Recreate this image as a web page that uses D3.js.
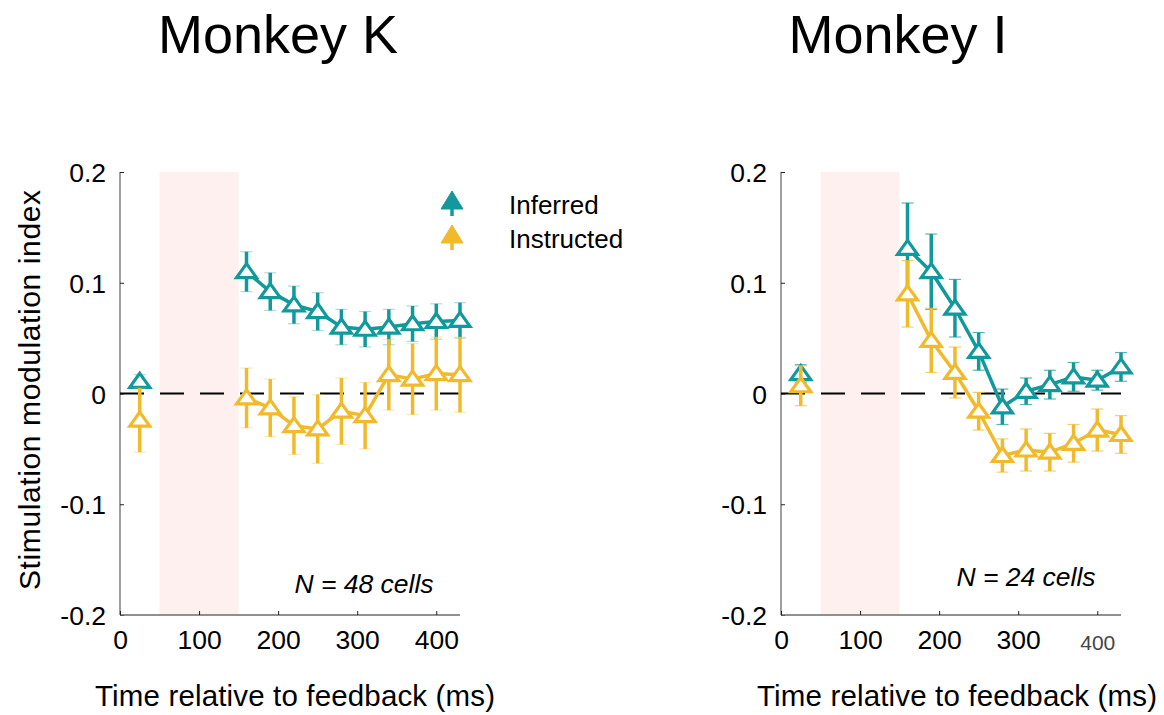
<!DOCTYPE html>
<html>
<head>
<meta charset="utf-8">
<script src="https://cdn.jsdelivr.net/npm/d3@7"></script>
<style>
  html, body { margin: 0; padding: 0; background: #fff; }
  svg { display: block; font-family: "Liberation Sans", Helvetica, Arial, sans-serif; }
</style>
</head>
<body>
<svg id="chart" width="1164" height="715"></svg>
<script>
// Time bins (ms relative to feedback)
const times = [25, 160, 190, 220, 250, 280, 310, 340, 370, 400, 430];

// Monkey K
const inferredK      = [0.011, 0.110, 0.092, 0.080, 0.074, 0.060, 0.058, 0.060, 0.063, 0.065, 0.066];
const inferredKErr   = [0.006, 0.018, 0.017, 0.017, 0.017, 0.016, 0.016, 0.016, 0.016, 0.016, 0.016];
const instructedK    = [-0.024, -0.004, -0.013, -0.029, -0.032, -0.016, -0.020, 0.017, 0.013, 0.018, 0.017];
const instructedKErr = [0.029, 0.027, 0.026, 0.026, 0.031, 0.030, 0.030, 0.032, 0.032, 0.033, 0.034];

// Monkey I
const inferredI      = [0.018, 0.131, 0.110, 0.077, 0.038, -0.012, 0.002, 0.008, 0.015, 0.012, 0.024];
const inferredIErr   = [0.008, 0.041, 0.034, 0.026, 0.017, 0.016, 0.012, 0.013, 0.013, 0.009, 0.013];
const instructedI    = [0.007, 0.090, 0.048, 0.019, -0.016, -0.056, -0.051, -0.053, -0.045, -0.033, -0.037];
const instructedIErr = [0.018, 0.030, 0.029, 0.023, 0.017, 0.015, 0.019, 0.017, 0.017, 0.019, 0.017];

const xTicks = [0, 100, 200, 300, 400];
const yTicks = [-0.2, -0.1, 0, 0.1, 0.2];
const yTickLabels = ["-0.2", "-0.1", "0", "0.1", "0.2"];
const stimWindow = [50, 150];
const seriesNames = ["Inferred", "Instructed"];

const TEAL = "#12999b";
const GOLD = "#f1ba2a";
const PINK = "#fff0f0";

const svg = d3.select("#chart");

// open triangle marker path, centred on the data point
const triPath = "M0,-8L10,6L-10,6Z";

function drawPanel(opts) {
  const x = d3.scaleLinear().domain([0, 430]).range([opts.left, opts.left + 340]);
  const y = d3.scaleLinear().domain([-0.2, 0.2]).range([615, 172]);
  const g = svg.append("g");

  // stimulation window
  g.append("rect")
    .attr("x", x(stimWindow[0])).attr("width", x(stimWindow[1]) - x(stimWindow[0]))
    .attr("y", y(0.2)).attr("height", y(-0.2) - y(0.2))
    .attr("fill", PINK);

  // axes
  const yAxis = d3.axisLeft(y).tickValues(yTicks).tickSize(-4).tickPadding(14)
    .tickFormat((d, i) => yTickLabels[i]);
  const xAxis = d3.axisBottom(x).tickValues(xTicks).tickSize(-4).tickPadding(16)
    .tickFormat(d3.format("d"));

  const ya = g.append("g").attr("transform", `translate(${x(0)},0)`).call(yAxis);
  const xa = g.append("g").attr("transform", `translate(0,${y(-0.2)})`).call(xAxis);
  [ya, xa].forEach(a => {
    a.select(".domain").attr("stroke", "#6b6b6b").attr("stroke-width", 1.3);
    a.selectAll(".tick line").attr("stroke", "#222").attr("stroke-width", 1);
    a.selectAll(".tick text").attr("font-size", 26.5).attr("fill", "#000")
      .attr("font-family", "'Liberation Sans', Helvetica, Arial, sans-serif");
  });
  ya.select(".domain").attr("d", `M0,${y(0.2)}V${y(-0.2)}`);
  xa.select(".domain").attr("d", `M${x(0)},0H${x(430)}`);
  ya.selectAll(".tick text").attr("dy", "0.36em");
  xa.selectAll(".tick text").attr("dy", "0.68em");
  if (opts.smallLast) {
    xa.selectAll(".tick text").filter(d => d === 400)
      .attr("font-size", 21).attr("fill", "#444").attr("dy", "0.9em");
  }

  // zero reference
  g.append("line")
    .attr("x1", x(0)).attr("x2", x(430)).attr("y1", y(0)).attr("y2", y(0))
    .attr("stroke", "#000").attr("stroke-width", 2.2)
    .attr("stroke-dasharray", "24,16");

  // series: inferred first, instructed on top
  const series = [
    { vals: opts.inferred, errs: opts.inferredErr, color: TEAL },
    { vals: opts.instructed, errs: opts.instructedErr, color: GOLD }
  ];
  series.forEach(s => {
    const pts = times.map((t, i) => ({ t, v: s.vals[i], e: s.errs[i] }));
    const sg = g.append("g");
    // error bars
    pts.forEach(p => {
      sg.append("line")
        .attr("x1", x(p.t)).attr("x2", x(p.t))
        .attr("y1", y(p.v - p.e)).attr("y2", y(p.v + p.e))
        .attr("stroke", s.color).attr("stroke-width", 3.5);
      [p.v - p.e, p.v + p.e].forEach(c => {
        sg.append("line")
          .attr("x1", x(p.t) - 6).attr("x2", x(p.t) + 6)
          .attr("y1", y(c)).attr("y2", y(c))
          .attr("stroke", s.color).attr("stroke-width", 1.2)
          .attr("stroke-opacity", opts.capOpacity);
      });
    });
    // connecting line (excluding the isolated early bin)
    const line = d3.line().x(p => x(p.t)).y(p => y(p.v));
    sg.append("path").datum(pts.slice(1)).attr("d", line)
      .attr("fill", "none").attr("stroke", s.color).attr("stroke-width", 3.5)
      .attr("stroke-linejoin", "round");
    // markers
    sg.selectAll("path.mk").data(pts).join("path").attr("class", "mk")
      .attr("d", triPath)
      .attr("transform", p => `translate(${x(p.t)},${y(p.v)})`)
      .attr("fill", "#fff").attr("stroke", s.color).attr("stroke-width", 3.2)
      .attr("stroke-linejoin", "miter");
  });

  // title
  svg.append("text").attr("x", opts.titleX).attr("y", 53)
    .attr("text-anchor", "middle").attr("font-size", 54).attr("fill", "#000")
    .text(opts.title);

  // cell count
  svg.append("text").attr("x", opts.nX).attr("y", opts.nY)
    .attr("text-anchor", "middle").attr("font-size", 26.5).attr("font-style", "italic")
    .attr("fill", "#000")
    .text(opts.nText);

  // x title
  svg.append("text").attr("x", opts.xTitleX).attr("y", 706)
    .attr("text-anchor", "middle").attr("font-size", 29.5).attr("fill", "#000")
    .attr("textLength", 400).attr("lengthAdjust", "spacing")
    .text("Time relative to feedback (ms)");

  return { x, y };
}

drawPanel({
  left: 120, title: "Monkey K", titleX: 278, capOpacity: 0.35,
  inferred: inferredK, inferredErr: inferredKErr,
  instructed: instructedK, instructedErr: instructedKErr,
  nText: "N = 48 cells", nX: 364, nY: 593, xTitleX: 295
});
drawPanel({
  left: 781, title: "Monkey I", titleX: 898, smallLast: true, capOpacity: 0.7,
  inferred: inferredI, inferredErr: inferredIErr,
  instructed: instructedI, instructedErr: instructedIErr,
  nText: "N = 24 cells", nX: 1026, nY: 586, xTitleX: 957
});

// y title
svg.append("text")
  .attr("transform", "translate(40,390) rotate(-90)")
  .attr("text-anchor", "middle").attr("font-size", 30).attr("fill", "#000")
  .attr("textLength", 400).attr("lengthAdjust", "spacing")
  .text("Stimulation modulation index");

// legend
const legend = svg.append("g");
[TEAL, GOLD].forEach((c, i) => {
  const cy = 201 + i * 34;
  legend.append("line").attr("x1", 452).attr("x2", 452)
    .attr("y1", cy - 6).attr("y2", cy + 15)
    .attr("stroke", c).attr("stroke-width", 3.5);
  legend.append("path").attr("d", "M0,-10L11,8L-11,8Z")
    .attr("transform", `translate(452,${cy})`)
    .attr("fill", c).attr("stroke", c).attr("stroke-width", 1);
  legend.append("text").attr("x", 509).attr("y", cy + 13)
    .attr("font-size", 26).attr("fill", "#000").text(seriesNames[i]);
});
</script>
</body>
</html>
